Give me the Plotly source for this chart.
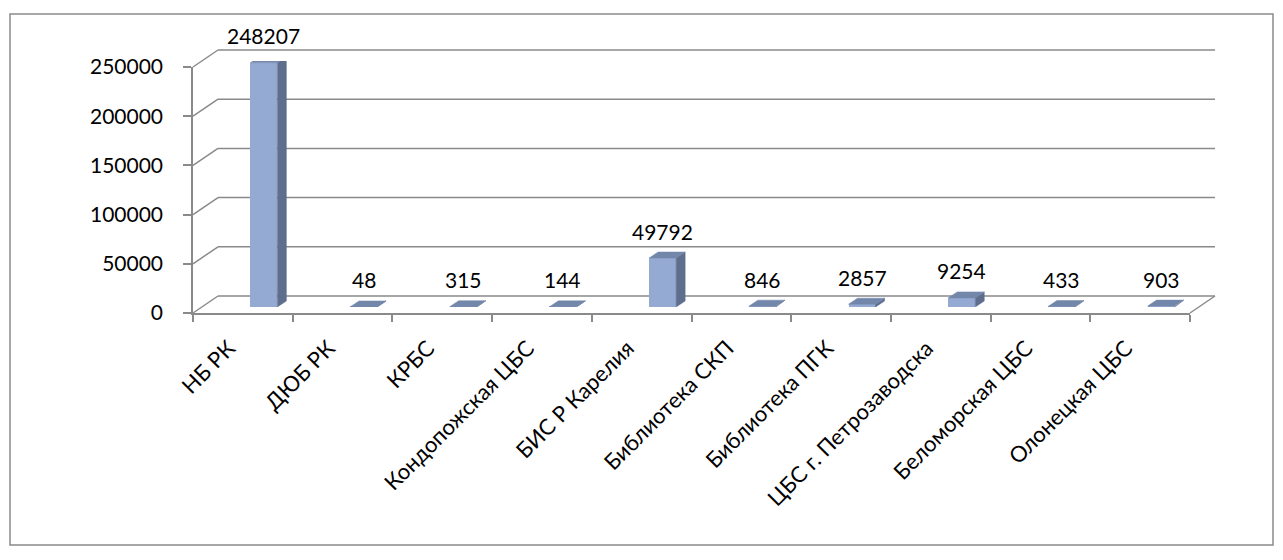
import plotly.graph_objects as go

categories = ["НБ РК", "ДЮБ РК", "КРБС", "Кондопожская ЦБС", "БИС Р Карелия",
              "Библиотека СКП", "Библиотека ПГК", "ЦБС г. Петрозаводска",
              "Беломорская ЦБС", "Олонецкая ЦБС"]
values = [248207, 48, 315, 144, 49792, 846, 2857, 9254, 433, 903]
y_ticks = [0, 50000, 100000, 150000, 200000, 250000]
y_max = 250000

# ---- layout geometry (pixels, page has an 8px body margin) ----
OFF = 8
W, H = 1283 - OFF, 560 - OFF
X0, Y0 = 193, 313                       # front-left-bottom corner (page px)
FW, FH = 997, 246                       # front plane size
WALL_DX, WALL_DY = 25, 17               # back wall offset
BAR_DX, BAR_DY = 21, 6                  # bar mid-depth offset
SIDE_DX, SIDE_DY = 9, 6                 # bar extrusion
L = X0 - OFF
T = Y0 - FH - WALL_DY - OFF
PW, PH = FW + WALL_DX, FH + WALL_DY
R = W - L - PW
B = H - T - PH

FONT = "Lato"
GRID = "#8a8a8a"
FRONT_C = "#95aad3"
SIDE_C = "#5f6e8c"
TOP_C = "#7387aa"

n = len(categories)
cat_px = FW / n
bw = 27 / cat_px
sdx = SIDE_DX / cat_px
sdy = SIDE_DY / FH * y_max

fig = go.Figure()

# invisible trace to materialise front axes
fig.add_trace(go.Scatter(x=categories, y=[None] * n, xaxis="x", yaxis="y",
                         showlegend=False, hoverinfo="skip"))

# side and top faces of bars
sx, sy, tx, ty = [], [], [], []
for i, v in enumerate(values):
    h = bw / 2
    sx += [i + h, i + h + sdx, i + h + sdx, i + h, i + h, None]
    sy += [0, sdy, v + sdy, v, 0, None]
    tx += [i - h, i - h + sdx, i + h + sdx, i + h, i - h, None]
    ty += [v, v + sdy, v + sdy, v, v, None]
fig.add_trace(go.Scatter(x=sx, y=sy, xaxis="x2", yaxis="y2", fill="toself",
                         fillcolor=SIDE_C, line=dict(width=0.5, color=SIDE_C),
                         mode="lines", showlegend=False, hoverinfo="skip"))
fig.add_trace(go.Scatter(x=tx, y=ty, xaxis="x2", yaxis="y2", fill="toself",
                         fillcolor=TOP_C, line=dict(width=0.5, color=TOP_C),
                         mode="lines", showlegend=False, hoverinfo="skip"))
# front faces
fig.add_trace(go.Bar(x=list(range(n)), y=values, width=bw, xaxis="x2", yaxis="y2",
                     marker=dict(color=FRONT_C, line=dict(width=0)),
                     showlegend=False, hoverinfo="skip"))

annotations = []
for i, v in enumerate(values):
    annotations.append(dict(x=i, y=v, xref="x2", yref="y2", text=str(v),
                            showarrow=False, yshift=27,
                            font=dict(family=FONT, size=21, color="black")))

shapes = []
gl = dict(color=GRID, width=1.5)
for v in y_ticks:
    yf = v / y_max * FH / PH
    yb = (WALL_DY + v / y_max * FH) / PH
    # left wall diagonal
    shapes.append(dict(type="line", xref="paper", yref="paper", x0=0, y0=yf,
                       x1=WALL_DX / PW, y1=yb, line=gl, layer="below"))
    # back wall gridline
    shapes.append(dict(type="line", xref="paper", yref="paper", x0=WALL_DX / PW,
                       y0=yb, x1=1, y1=yb, line=gl, layer="below"))
# right floor edge
shapes.append(dict(type="line", xref="paper", yref="paper", x0=FW / PW, y0=0,
                   x1=1, y1=WALL_DY / PH, line=gl, layer="below"))
# outer border
shapes.append(dict(type="rect", xref="paper", yref="paper",
                   x0=(10 - X0) / PW, x1=(1273 - X0) / PW,
                   y0=(Y0 - 545) / PH, y1=(Y0 - 14) / PH,
                   line=gl))

fig.update_layout(
    width=W, height=H,
    margin=dict(l=L, r=R, t=T, b=B),
    paper_bgcolor="white", plot_bgcolor="rgba(0,0,0,0)",
    font=dict(family=FONT, size=20, color="black"),
    bargap=0,
    xaxis=dict(domain=[0, FW / PW], type="category", range=[-0.5, n - 0.5],
               tickson="boundaries", ticks="outside", ticklen=7, tickcolor=GRID,
               tickwidth=1.5, showline=True, linecolor=GRID, linewidth=1.5,
               tickangle=-45, showgrid=False, zeroline=False, anchor="y",
               ticklabelstandoff=12, ticklabelshift=-14,
               tickfont=dict(family=FONT, size=22)),
    yaxis=dict(domain=[0, FH / PH], range=[0, y_max], tickvals=y_ticks,
               ticktext=[str(t) for t in y_ticks], ticks="outside", ticklen=8,
               tickcolor=GRID, tickwidth=1.5, showline=True, linecolor=GRID,
               linewidth=1.5, showgrid=False, zeroline=False, anchor="x",
               ticklabelstandoff=16, tickfont=dict(family=FONT, size=21)),
    xaxis2=dict(domain=[BAR_DX / PW, (BAR_DX + FW) / PW], range=[-0.5, n - 0.5],
                visible=False, anchor="y2"),
    yaxis2=dict(domain=[BAR_DY / PH, (BAR_DY + FH) / PH], range=[0, y_max],
                visible=False, anchor="x2"),
    annotations=annotations,
    shapes=shapes,
)

fig.write_html("out.html")
